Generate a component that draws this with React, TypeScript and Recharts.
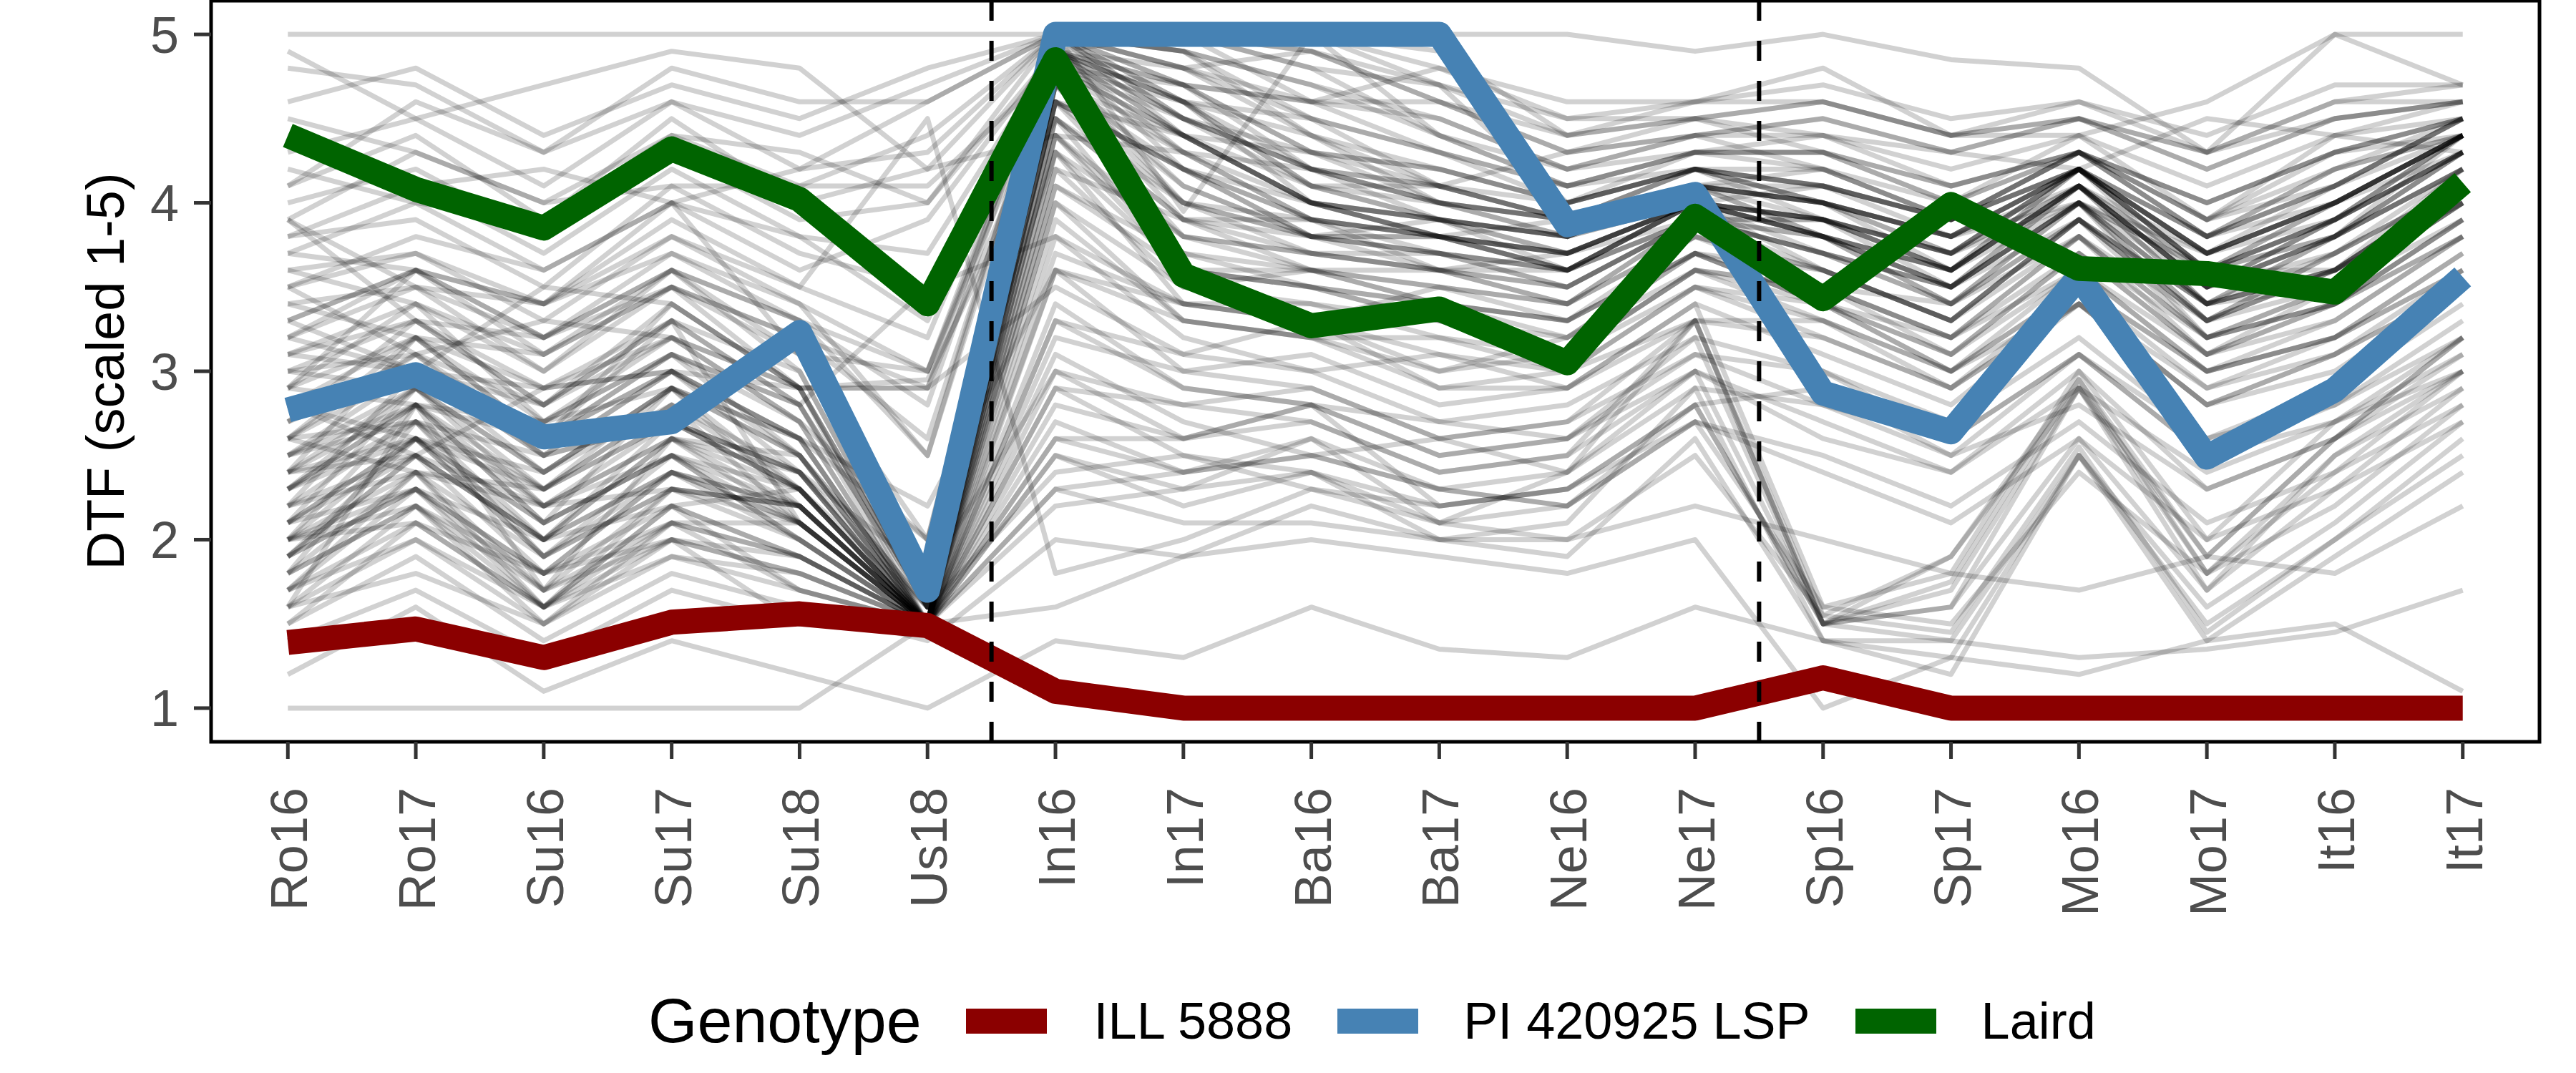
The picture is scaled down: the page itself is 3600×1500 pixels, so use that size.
import { Line, LineChart, ReferenceArea, ReferenceLine, XAxis, YAxis } from 'recharts';

const environments = [
  'Ro16', 'Ro17', 'Su16', 'Su17', 'Su18', 'Us18',
  'In16', 'In17', 'Ba16', 'Ba17', 'Ne16', 'Ne17',
  'Sp16', 'Sp17', 'Mo16', 'Mo17', 'It16', 'It17',
];

const yTicks = [1, 2, 3, 4, 5];
const separators = [5.5, 11.5];

// highlighted genotypes
const ill5888 = [1.39, 1.47, 1.3, 1.51, 1.56, 1.49, 1.1, 1.0, 1.0, 1.0, 1.0, 1.0, 1.18, 1.0, 1.0, 1.0, 1.0, 1.0];
const pi420925 = [2.77, 2.98, 2.61, 2.7, 3.23, 1.7, 5.0, 5.0, 5.0, 5.0, 3.87, 4.05, 2.87, 2.64, 3.56, 2.49, 2.89, 3.56];
const laird = [4.4, 4.08, 3.85, 4.32, 4.02, 3.4, 4.85, 3.57, 3.27, 3.37, 3.05, 3.92, 3.43, 3.99, 3.61, 3.58, 3.47, 4.12];

// the rest of the panel, drawn in faint black
const otherGenotypes: number[][] = [
  [1.8, 2.2, 1.7, 2.0, 1.9, 1.5, 2.6, 2.4, 2.5, 2.3, 2.2, 2.8, 1.5, 1.4, 2.5, 1.6, 2.1, 2.7],
  [1.6, 2.0, 1.5, 1.9, 1.8, 1.5, 2.2, 2.3, 2.6, 2.1, 2.4, 3.0, 1.5, 1.6, 2.9, 1.8, 2.4, 3.0],
  [2.1, 2.6, 1.9, 2.3, 2.1, 1.5, 3.0, 2.8, 2.9, 2.6, 2.7, 3.3, 1.5, 1.9, 2.9, 1.9, 2.6, 3.1],
  [1.7, 2.4, 1.6, 2.1, 1.7, 1.5, 2.5, 2.2, 2.4, 2.0, 2.1, 2.9, 1.4, 1.3, 2.5, 1.5, 2.0, 2.5],
  [2.3, 2.8, 2.1, 2.5, 2.2, 1.5, 3.2, 3.0, 3.1, 2.8, 2.9, 3.4, 1.6, 1.8, 3.0, 2.0, 2.7, 3.2],
  [1.5, 1.9, 1.4, 1.8, 1.6, 1.4, 2.0, 1.9, 2.2, 2.0, 1.9, 2.6, 1.4, 1.2, 2.5, 1.4, 1.9, 2.4],
  [2.0, 2.3, 1.8, 2.4, 2.0, 1.5, 2.8, 2.6, 2.8, 2.5, 2.6, 3.2, 1.5, 1.7, 2.9, 1.7, 2.5, 2.9],
  [1.9, 2.5, 2.0, 2.2, 2.3, 1.6, 2.4, 2.5, 2.3, 2.2, 2.3, 2.7, 1.6, 1.5, 2.4, 1.8, 2.2, 2.8],
  [2.4, 2.9, 2.3, 2.8, 2.3, 1.5, 4.8, 4.0, 3.8, 3.7, 3.5, 3.9, 3.7, 3.5, 4.0, 3.4, 3.6, 4.1],
  [2.6, 3.1, 2.5, 3.0, 2.6, 1.5, 4.9, 4.3, 3.9, 3.8, 3.7, 4.0, 3.9, 3.6, 4.1, 3.5, 3.9, 4.3],
  [2.2, 2.7, 2.0, 2.6, 2.2, 1.5, 4.6, 3.8, 3.7, 3.6, 3.4, 3.8, 3.6, 3.3, 3.9, 3.3, 3.5, 4.0],
  [3.0, 3.3, 2.8, 3.4, 2.9, 1.6, 5.0, 4.5, 4.1, 3.9, 3.8, 4.1, 4.0, 3.8, 4.2, 3.7, 4.0, 4.4],
  [2.8, 2.6, 2.4, 2.9, 2.5, 1.5, 4.7, 3.9, 3.9, 3.8, 3.6, 4.0, 3.8, 3.4, 4.0, 3.3, 3.7, 4.2],
  [1.9, 2.5, 1.8, 2.4, 2.1, 1.5, 4.5, 3.6, 3.6, 3.5, 3.3, 3.8, 3.5, 3.2, 3.8, 3.2, 3.4, 3.9],
  [3.2, 3.5, 3.0, 3.6, 3.0, 1.6, 4.9, 4.6, 4.2, 4.0, 3.9, 4.2, 4.1, 3.9, 4.3, 3.8, 4.1, 4.5],
  [2.5, 2.8, 2.6, 3.1, 2.8, 1.5, 4.4, 3.7, 3.5, 3.4, 3.2, 3.7, 3.4, 3.1, 3.7, 3.1, 3.3, 3.8],
  [2.7, 3.0, 2.5, 2.7, 2.4, 1.5, 4.8, 4.1, 3.8, 3.6, 3.6, 3.9, 3.9, 3.7, 4.2, 3.6, 3.8, 4.4],
  [2.0, 2.4, 1.9, 2.3, 2.0, 1.5, 4.2, 3.5, 3.4, 3.3, 3.1, 3.6, 3.3, 3.0, 3.6, 3.0, 3.2, 3.7],
  [3.4, 3.2, 3.1, 3.5, 3.2, 2.9, 5.0, 4.4, 4.0, 3.9, 3.8, 4.1, 3.8, 3.6, 4.1, 3.5, 3.9, 4.3],
  [2.9, 3.4, 2.7, 3.2, 2.7, 2.0, 4.9, 4.2, 3.9, 3.8, 3.7, 4.0, 3.7, 3.5, 4.0, 3.6, 3.6, 4.1],
  [2.3, 2.7, 2.2, 2.6, 2.5, 1.5, 4.3, 3.4, 3.3, 3.5, 3.4, 3.8, 3.6, 3.3, 3.9, 3.4, 3.5, 4.0],
  [3.6, 3.7, 3.3, 3.8, 3.4, 3.0, 5.0, 4.7, 4.3, 4.1, 4.0, 4.2, 4.2, 4.0, 4.3, 3.9, 4.2, 4.4],
  [1.8, 2.2, 1.6, 2.2, 1.9, 1.5, 4.0, 3.3, 3.2, 3.2, 3.0, 3.5, 3.2, 2.9, 3.5, 2.9, 3.1, 3.6],
  [2.6, 3.0, 2.8, 3.3, 2.8, 1.6, 4.6, 4.0, 3.7, 3.7, 3.5, 3.9, 3.9, 3.7, 4.2, 3.7, 3.9, 4.3],
  [3.1, 3.4, 3.0, 3.5, 2.9, 1.6, 4.8, 4.3, 4.0, 3.8, 3.6, 4.0, 3.6, 3.3, 3.9, 3.2, 3.4, 3.8],
  [2.1, 2.9, 2.2, 2.7, 2.3, 1.5, 4.5, 3.9, 3.6, 3.5, 3.4, 3.9, 3.8, 3.5, 4.0, 3.4, 3.6, 4.1],
  [2.4, 2.6, 2.1, 2.5, 2.1, 1.5, 3.8, 3.2, 3.0, 3.1, 2.9, 3.4, 3.1, 2.8, 3.4, 2.8, 3.0, 3.5],
  [3.3, 3.6, 3.2, 3.7, 3.3, 2.5, 5.0, 4.8, 4.4, 4.0, 3.9, 4.1, 4.0, 3.8, 4.2, 3.6, 4.0, 4.4],
  [4.0, 4.2, 3.8, 4.3, 3.9, 4.0, 5.0, 5.0, 4.9, 4.6, 4.3, 4.4, 4.5, 4.3, 4.5, 4.2, 4.5, 4.6],
  [3.8, 3.9, 3.5, 4.1, 3.7, 3.5, 5.0, 4.9, 4.7, 4.4, 4.2, 4.3, 4.4, 4.2, 4.4, 4.1, 4.4, 4.5],
  [4.3, 4.5, 4.1, 4.6, 4.2, 4.6, 5.0, 5.0, 5.0, 4.8, 4.5, 4.5, 4.6, 4.4, 4.6, 4.3, 4.6, 4.7],
  [3.5, 3.7, 3.4, 3.9, 3.5, 3.2, 5.0, 4.8, 4.5, 4.3, 4.1, 4.3, 4.3, 4.1, 4.3, 4.0, 4.3, 4.5],
  [4.6, 4.8, 4.4, 4.7, 4.5, 4.8, 5.0, 5.0, 4.8, 4.7, 4.4, 4.6, 4.7, 4.5, 4.6, 4.4, 4.7, 4.7],
  [3.7, 4.0, 3.6, 4.0, 3.8, 3.7, 4.9, 4.7, 4.6, 4.5, 4.2, 4.4, 4.2, 3.9, 4.2, 3.8, 4.2, 4.4],
  [4.1, 4.4, 3.9, 4.5, 4.0, 4.2, 5.0, 5.0, 5.0, 4.9, 4.4, 4.5, 4.3, 4.0, 4.3, 3.9, 4.4, 4.6],
  [3.3, 3.6, 3.2, 3.6, 3.3, 3.0, 4.8, 4.6, 4.4, 4.2, 4.0, 4.2, 4.0, 3.8, 4.1, 3.7, 4.0, 4.4],
  [5.0, 5.0, 5.0, 5.0, 5.0, 5.0, 5.0, 5.0, 5.0, 5.0, 5.0, 4.9, 5.0, 4.85, 4.8, 4.3, 5.0, 5.0],
  [1.0, 1.0, 1.0, 1.0, 1.0, 1.5, 1.6, 1.9, 2.0, 1.9, 1.8, 2.0, 1.0, 1.3, 1.2, 1.4, 1.5, 1.1],
  [1.2, 1.6, 1.1, 1.4, 1.2, 1.0, 1.4, 1.3, 1.6, 1.35, 1.3, 1.6, 1.4, 1.4, 1.3, 1.35, 1.45, 1.7],
  [4.8, 4.7, 4.3, 4.8, 4.6, 4.6, 5.0, 4.7, 4.6, 4.8, 4.6, 4.6, 4.8, 4.4, 4.4, 4.6, 5.0, 4.7],
  [4.9, 4.5, 4.7, 4.9, 4.8, 4.2, 4.4, 4.3, 4.2, 4.1, 4.3, 4.5, 4.4, 4.3, 4.2, 4.5, 4.4, 4.3],
  [3.9, 3.5, 3.4, 3.8, 3.5, 4.5, 1.8, 2.0, 2.3, 2.1, 2.0, 2.2, 2.0, 1.8, 1.7, 1.9, 1.8, 2.2],
  [2.2, 2.5, 2.0, 2.4, 2.2, 1.5, 3.3, 3.1, 3.0, 2.7, 2.8, 3.2, 3.0, 2.7, 3.2, 2.6, 2.9, 3.4],
  [1.9, 2.3, 1.8, 2.0, 1.8, 1.5, 2.9, 2.8, 2.7, 2.4, 2.5, 3.0, 2.7, 2.4, 3.0, 2.3, 2.6, 3.2],
  [2.7, 3.1, 2.6, 3.0, 2.6, 2.2, 3.6, 3.3, 3.2, 2.9, 2.9, 3.3, 3.2, 2.9, 3.4, 2.8, 3.1, 3.5],
  [2.5, 2.7, 2.3, 2.8, 2.4, 1.8, 3.0, 2.6, 2.8, 2.2, 2.3, 2.8, 2.9, 2.5, 2.8, 2.3, 2.6, 3.0],
  [3.0, 2.9, 2.7, 3.1, 2.8, 3.5, 3.8, 3.4, 3.4, 3.2, 3.1, 3.5, 3.4, 3.0, 3.5, 3.0, 3.2, 3.7],
  [1.7, 2.1, 1.6, 1.9, 1.7, 1.5, 2.7, 2.4, 2.6, 2.3, 2.2, 2.7, 2.5, 2.2, 2.7, 2.1, 2.4, 2.8],
  [3.9, 3.3, 3.2, 3.6, 3.1, 3.0, 4.9, 4.5, 4.3, 4.2, 4.0, 4.2, 4.1, 3.9, 4.3, 3.9, 4.1, 4.5],
  [3.5, 3.1, 3.3, 3.2, 2.9, 2.9, 4.7, 4.4, 4.1, 4.1, 3.9, 4.1, 3.9, 3.7, 4.2, 3.6, 3.8, 4.3],
  [4.4, 4.1, 4.2, 4.0, 4.2, 4.3, 5.0, 4.9, 4.7, 4.5, 4.2, 4.4, 4.4, 4.1, 4.3, 4.0, 4.3, 4.5],
  [2.9, 3.6, 3.4, 4.0, 3.6, 3.9, 4.9, 4.6, 4.5, 4.3, 4.1, 4.3, 4.2, 3.9, 4.2, 3.7, 4.0, 4.4],
  [1.6, 2.8, 1.7, 2.6, 2.1, 1.5, 4.6, 4.2, 3.8, 3.9, 3.6, 4.0, 3.8, 3.6, 4.0, 3.5, 3.8, 4.2],
  [2.0, 2.1, 1.8, 2.1, 2.1, 1.5, 4.9, 5.0, 5.0, 4.7, 4.0, 4.2, 4.0, 3.8, 4.2, 3.7, 4.0, 4.4],
  [2.3, 2.9, 2.4, 2.8, 2.1, 1.5, 5.0, 3.95, 5.0, 4.4, 4.1, 4.2, 3.9, 3.7, 4.0, 3.6, 3.9, 4.3],
  [2.8, 3.2, 2.9, 3.3, 2.1, 1.5, 5.0, 5.0, 4.6, 4.3, 4.0, 4.2, 4.0, 3.7, 4.1, 3.6, 3.9, 4.4],
  [1.4, 1.7, 1.3, 1.7, 1.5, 1.45, 3.6, 3.0, 2.9, 2.6, 2.7, 3.1, 2.8, 2.5, 3.1, 2.5, 2.7, 3.1],
  [2.6, 2.4, 2.2, 2.5, 2.3, 1.5, 4.4, 3.6, 3.5, 3.3, 3.1, 3.6, 3.5, 3.2, 3.8, 3.1, 3.5, 4.0],
  [3.1, 3.0, 2.6, 3.3, 3.0, 1.6, 4.7, 4.1, 3.8, 3.8, 3.6, 3.9, 3.7, 3.4, 3.9, 3.3, 3.6, 4.2],
  [2.1, 2.6, 2.3, 2.9, 2.6, 1.5, 4.9, 4.4, 4.0, 3.8, 3.7, 4.0, 3.8, 3.5, 4.1, 3.5, 3.7, 4.1],
  [1.7, 2.0, 1.6, 2.3, 2.2, 1.5, 3.4, 2.9, 2.8, 2.7, 2.6, 3.1, 3.0, 2.6, 3.1, 2.6, 2.8, 3.2],
  [2.4, 3.2, 2.6, 3.4, 2.9, 1.5, 4.2, 3.9, 3.8, 3.7, 3.6, 4.0, 3.9, 3.6, 4.1, 3.5, 3.8, 4.3],
  [2.9, 2.8, 2.7, 2.9, 2.2, 1.5, 4.6, 4.4, 4.0, 3.8, 3.9, 4.1, 4.0, 3.7, 4.2, 3.6, 4.0, 4.4],
  [2.2, 2.4, 2.3, 2.7, 2.4, 1.5, 4.8, 4.7, 4.2, 3.9, 3.8, 4.1, 3.8, 3.6, 4.1, 3.4, 3.8, 4.2],
  [3.5, 3.8, 3.6, 4.0, 3.1, 2.0, 5.0, 4.5, 4.2, 4.0, 3.8, 4.0, 4.1, 3.8, 4.0, 3.7, 4.1, 4.5],
  [1.6, 1.8, 1.5, 2.0, 1.5, 1.5, 2.3, 2.1, 2.1, 2.0, 2.0, 2.5, 1.55, 1.45, 2.55, 1.45, 2.0, 2.6],
  [2.0, 2.2, 1.8, 2.2, 1.7, 1.5, 2.6, 2.6, 2.7, 2.4, 2.5, 3.3, 1.55, 1.9, 2.95, 1.9, 2.6, 3.2],
  [1.8, 2.7, 1.9, 2.5, 2.0, 1.5, 3.9, 3.3, 3.2, 3.0, 3.2, 3.6, 3.4, 3.0, 3.5, 3.0, 3.2, 3.6],
  [3.2, 3.0, 2.9, 3.0, 2.6, 2.0, 4.3, 3.8, 3.6, 3.6, 3.5, 3.9, 3.7, 3.4, 3.8, 3.3, 3.6, 4.0],
  [2.5, 2.9, 2.4, 2.9, 2.5, 1.6, 4.9, 4.6, 4.0, 3.9, 3.7, 4.0, 3.9, 3.6, 4.2, 3.5, 3.9, 4.3],
  [2.7, 3.3, 2.9, 3.2, 2.7, 1.5, 5.0, 4.9, 4.5, 4.1, 3.9, 4.1, 4.0, 3.6, 4.1, 3.4, 3.8, 4.2],
  [3.8, 4.1, 3.7, 4.2, 3.8, 3.3, 5.0, 5.0, 4.8, 4.4, 4.1, 4.3, 4.3, 4.0, 4.4, 3.9, 4.3, 4.5],
  [3.1, 3.3, 2.8, 3.3, 2.8, 1.6, 4.7, 4.2, 3.8, 3.7, 3.6, 4.0, 3.8, 3.4, 4.0, 3.2, 3.5, 4.0],
  [2.3, 2.6, 2.1, 2.5, 2.0, 1.5, 4.0, 3.5, 3.6, 3.4, 3.3, 3.7, 3.5, 3.1, 3.6, 3.0, 3.3, 3.8],
  [1.9, 2.3, 1.7, 2.1, 1.9, 1.5, 3.7, 3.4, 3.3, 3.1, 3.0, 3.5, 3.3, 2.9, 3.4, 2.8, 3.1, 3.5],
  [2.8, 3.0, 2.6, 3.1, 2.7, 1.5, 4.5, 3.9, 3.7, 3.6, 3.5, 3.9, 3.6, 3.3, 3.9, 3.3, 3.6, 4.1],
  [3.4, 3.5, 3.2, 3.5, 3.2, 2.6, 4.9, 4.7, 4.3, 4.0, 3.9, 4.1, 4.1, 3.9, 4.3, 3.8, 4.1, 4.5],
  [4.2, 4.0, 3.9, 4.4, 4.1, 4.4, 5.0, 4.8, 4.6, 4.6, 4.3, 4.4, 4.5, 4.3, 4.5, 4.2, 4.5, 4.6],
  [2.1, 2.3, 2.0, 2.6, 2.3, 1.5, 4.7, 4.0, 3.8, 3.8, 3.6, 3.9, 3.7, 3.5, 4.0, 3.4, 3.6, 4.1],
  [2.6, 2.7, 2.5, 2.7, 2.3, 1.5, 4.1, 3.7, 3.6, 3.4, 3.3, 3.7, 3.6, 3.3, 3.8, 3.2, 3.5, 3.9],
  [1.5, 2.1, 1.6, 2.2, 1.9, 1.5, 2.5, 2.3, 2.4, 2.2, 2.3, 2.8, 1.5, 1.6, 2.6, 1.7, 2.3, 2.9],
  [3.0, 3.1, 2.8, 3.2, 2.9, 1.6, 4.8, 4.4, 4.0, 3.9, 3.8, 4.0, 3.9, 3.7, 4.1, 3.6, 3.9, 4.4],
  [2.4, 2.5, 2.2, 2.3, 2.2, 1.5, 4.4, 3.8, 3.7, 3.6, 3.4, 3.9, 3.5, 3.4, 3.9, 3.4, 3.6, 4.0],
  [4.5, 4.3, 4.0, 4.4, 4.3, 4.0, 4.9, 4.8, 4.9, 4.6, 4.4, 4.5, 4.6, 4.4, 4.5, 4.3, 4.5, 4.6],
  [2.2, 3.0, 2.5, 3.0, 2.4, 1.5, 4.6, 4.2, 4.0, 3.8, 3.7, 4.0, 3.8, 3.5, 4.0, 3.3, 3.7, 4.1],
  [1.9, 2.6, 2.0, 2.7, 2.3, 1.5, 4.3, 3.6, 3.5, 3.4, 3.3, 3.7, 3.4, 3.2, 3.7, 3.2, 3.4, 3.9],
  [3.6, 3.4, 3.1, 3.6, 3.3, 2.8, 5.0, 4.6, 4.1, 4.0, 3.9, 4.1, 4.0, 3.8, 4.2, 3.8, 4.0, 4.3],
  [2.0, 2.8, 2.1, 2.9, 2.6, 1.5, 3.1, 2.7, 2.5, 2.6, 2.4, 2.9, 2.8, 2.6, 3.1, 2.5, 2.8, 3.3],
  [3.3, 3.0, 3.5, 3.4, 2.9, 2.95, 4.5, 4.0, 3.9, 3.6, 3.7, 3.9, 3.8, 3.5, 3.9, 3.4, 3.7, 4.1],
  [2.8, 2.5, 2.9, 3.0, 2.9, 2.9, 3.5, 3.1, 3.3, 2.9, 3.0, 3.3, 3.3, 3.0, 3.4, 2.9, 3.2, 3.6],
  [3.9, 4.3, 4.0, 4.1, 4.1, 4.1, 4.8, 4.4, 4.3, 4.2, 4.0, 4.3, 4.3, 4.1, 4.3, 4.0, 4.3, 4.4],
  [1.7, 2.3, 1.6, 2.0, 1.8, 1.5, 2.3, 2.4, 2.5, 2.3, 2.4, 3.3, 1.5, 1.75, 2.95, 1.8, 2.5, 3.0],
  [2.0, 2.6, 1.9, 2.4, 2.1, 1.5, 4.9, 4.4, 4.0, 3.9, 3.7, 4.0, 3.9, 3.5, 4.1, 3.5, 3.8, 4.3],
  [2.5, 3.0, 2.4, 2.9, 2.3, 1.5, 4.7, 4.3, 3.9, 3.7, 3.6, 4.0, 3.9, 3.6, 4.2, 3.6, 3.9, 4.4],
  [2.9, 3.2, 2.7, 3.1, 2.5, 1.5, 5.0, 4.6, 4.1, 3.9, 3.8, 4.1, 4.0, 3.8, 4.2, 3.7, 4.0, 4.4],
  [3.7, 3.6, 3.4, 3.7, 3.4, 2.5, 4.9, 4.5, 4.2, 4.1, 3.9, 4.2, 4.1, 3.9, 4.2, 3.8, 4.1, 4.4],
  [1.8, 2.4, 1.7, 2.3, 2.2, 1.5, 2.9, 2.5, 2.4, 2.1, 2.2, 2.7, 2.4, 2.1, 2.6, 2.0, 2.3, 2.7],
  [2.3, 2.8, 2.2, 2.6, 2.4, 1.5, 3.6, 3.4, 3.3, 3.0, 3.1, 3.6, 3.5, 3.2, 3.6, 3.1, 3.4, 3.9],
  [2.6, 3.2, 2.6, 3.0, 2.5, 1.6, 4.8, 4.5, 4.2, 4.0, 3.8, 4.1, 4.2, 3.9, 4.3, 3.8, 4.2, 4.5],
  [3.2, 3.6, 3.1, 3.5, 3.1, 1.7, 5.0, 4.9, 4.4, 4.1, 3.9, 4.2, 4.1, 3.9, 4.2, 3.7, 4.0, 4.4],
  [2.1, 2.5, 2.0, 2.4, 2.2, 1.5, 4.1, 3.6, 3.5, 3.3, 3.2, 3.7, 3.4, 3.1, 3.7, 3.1, 3.4, 3.8],
  [1.6, 2.2, 1.5, 2.1, 1.9, 1.5, 3.3, 2.9, 2.8, 2.5, 2.6, 3.0, 2.6, 2.4, 2.9, 2.4, 2.7, 3.0],
  [4.1, 4.6, 4.3, 4.6, 4.4, 4.7, 5.0, 5.0, 4.9, 4.7, 4.5, 4.6, 4.6, 4.4, 4.5, 4.3, 4.6, 4.6],
  [2.4, 2.8, 2.3, 2.7, 2.4, 1.6, 4.6, 4.2, 3.9, 3.8, 3.7, 4.0, 3.8, 3.6, 4.1, 3.5, 3.8, 4.2],
];

const highlights = [
  { key: 'ill', name: 'ILL 5888', color: '#8B0000', values: ill5888 },
  { key: 'pi', name: 'PI 420925 LSP', color: '#4682B4', values: pi420925 },
  { key: 'laird', name: 'Laird', color: '#006400', values: laird },
];

const FONT = '"Liberation Sans", Arial, sans-serif';
const TEXT_GREY = '#4D4D4D';
const TICK_GREY = '#333333';

function buildRows() {
  return environments.map((env, i) => {
    const row: Record<string, number | string> = { pos: i, env };
    highlights.forEach((h) => {
      row[h.key] = h.values[i];
    });
    otherGenotypes.forEach((g, k) => {
      row[`g${k}`] = g[i];
    });
    return row;
  });
}

function EnvTick({ x, y, payload }: { x?: number; y?: number; payload?: { value: number } }) {
  if (x == null || y == null || !payload) return null;
  const bx = x + 27;
  const by = y + 38;
  return (
    <text
      x={bx}
      y={by}
      transform={`rotate(-90 ${bx} ${by})`}
      textAnchor="end"
      fontSize={72}
      fill={TEXT_GREY}
      fontFamily={FONT}
    >
      {environments[payload.value]}
    </text>
  );
}

function YTitle({ viewBox }: { viewBox?: { x: number; y: number; width: number; height: number } }) {
  if (!viewBox) return null;
  const tx = viewBox.x + 8;
  const ty = viewBox.y + viewBox.height / 2;
  return (
    <text
      x={tx}
      y={ty}
      transform={`rotate(-90 ${tx} ${ty})`}
      textAnchor="middle"
      fontSize={74}
      fill="#000"
      fontFamily={FONT}
    >
      DTF (scaled 1-5)
    </text>
  );
}

function GenotypeLegend() {
  return (
    <div
      style={{
        position: 'absolute',
        left: 906,
        top: 1377,
        height: 100,
        display: 'flex',
        alignItems: 'center',
        fontFamily: FONT,
        whiteSpace: 'nowrap',
      }}
    >
      <span style={{ fontSize: 88, color: '#000', marginRight: 62, lineHeight: 1 }}>Genotype</span>
      {highlights.map((h, i) => (
        <span key={h.key} style={{ display: 'flex', alignItems: 'center', marginLeft: i === 0 ? 0 : 63 }}>
          <span style={{ display: 'inline-block', width: 113, height: 35, background: h.color }} />
          <span style={{ fontSize: 72, color: '#000', marginLeft: i === 0 ? 66 : 63, lineHeight: 1 }}>
            {h.name}
          </span>
        </span>
      ))}
    </div>
  );
}

export default function App() {
  const data = buildRows();

  return (
    <div
      style={{
        position: 'absolute',
        left: 0,
        top: 0,
        width: 3600,
        height: 1500,
        background: '#fff',
        fontFamily: FONT,
      }}
    >
      <LineChart
        width={3600}
        height={1500}
        data={data}
        margin={{ top: 1, right: 51, left: 165, bottom: 163 }}
      >
        <XAxis
          dataKey="pos"
          type="number"
          domain={[-0.6, 17.6]}
          ticks={environments.map((_, i) => i)}
          interval={0}
          height={300}
          axisLine={false}
          tickLine={{ stroke: TICK_GREY, strokeWidth: 5 }}
          tickSize={24}
          tick={<EnvTick />}
        />
        <YAxis
          type="number"
          domain={[0.8, 5.2]}
          ticks={yTicks}
          width={130}
          axisLine={false}
          tickLine={{ stroke: TICK_GREY, strokeWidth: 5 }}
          tickSize={24}
          tickMargin={21}
          tick={{ fill: TEXT_GREY, fontSize: 72, fontFamily: FONT }}
          label={<YTitle />}
        />
        {otherGenotypes.map((_, k) => (
          <Line
            key={`g${k}`}
            dataKey={`g${k}`}
            stroke="#000"
            strokeOpacity={0.18}
            strokeWidth={7}
            dot={false}
            activeDot={false}
            strokeLinejoin="round"
            strokeLinecap="butt"
            isAnimationActive={false}
          />
        ))}
        {highlights.map((h) => (
          <Line
            key={h.key}
            dataKey={h.key}
            name={h.name}
            stroke={h.color}
            strokeWidth={35}
            strokeLinejoin="round"
            strokeLinecap="butt"
            dot={false}
            activeDot={false}
            isAnimationActive={false}
          />
        ))}
        {separators.map((s) => (
          <ReferenceLine key={s} x={s} stroke="#000" strokeWidth={6} strokeDasharray="28 28" />
        ))}
        <ReferenceArea
          x1={-0.6}
          x2={17.6}
          y1={0.8}
          y2={5.2}
          fill="none"
          stroke="#000"
          strokeWidth={5}
          fillOpacity={0}
        />
      </LineChart>
      <GenotypeLegend />
    </div>
  );
}
